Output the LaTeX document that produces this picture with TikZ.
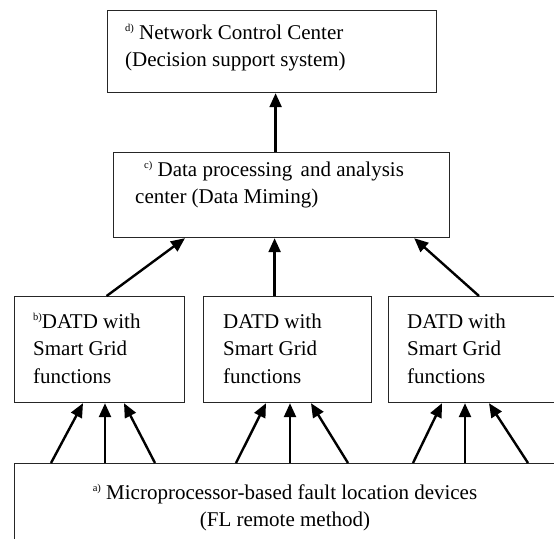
\documentclass[tikz,border=0pt]{standalone}
\usepackage{fontspec}
\setmainfont{Liberation Serif}
\usetikzlibrary{arrows.meta}
\newcommand{\tag}[1]{\raisebox{7.5pt}{\fontsize{10.5}{12}\selectfont #1}}
\begin{document}
\begin{tikzpicture}[x=1pt,y=-1pt,
  box/.style={draw=black!85,line width=1.2pt,rectangle,anchor=north west,inner sep=0pt},
  txt/.style={inner sep=0pt,align=left,font=\fontsize{21}{27.5}\selectfont},
  arr/.style={line width=2.4pt,-{Triangle[length=14pt,width=12pt]}}]
\clip (0,0) rectangle (554,538);
\fill[white] (0,0) rectangle (554,538);

% boxes
\node[box,minimum width=329pt,minimum height=82pt] (d) at (107,10) {};
\node[box,minimum width=336pt,minimum height=85pt] (c) at (113,152) {};
\node[box,minimum width=170pt,minimum height=106pt] (b1) at (14,296) {};
\node[box,minimum width=168pt,minimum height=106pt] (b2) at (203,296) {};
\node[box,minimum width=175pt,minimum height=106pt] (b3) at (388,296) {};
\node[box,minimum width=550pt,minimum height=90pt] (a) at (14,463) {};

% labels
\node[txt,anchor=north west] (dt) at (125,24.5) {\tag{d)} Network Control Center\\(Decision support system)};
\node[txt,anchor=north west] (ct) at (135,161.5) {\hspace{9pt}\tag{c)} Data processing\hspace{0.15em} and analysis\\center (Data Miming)};
\node[txt,anchor=north west] (b1t) at (33,313.5) {\tag{b)}DATD with\\Smart Grid\\functions};
\node[txt,anchor=north west] (b2t) at (223,313.5) {DATD with\\Smart Grid\\functions};
\node[txt,anchor=north west] (b3t) at (407,313.5) {DATD with\\Smart Grid\\functions};
\node[txt,anchor=north,align=center] (at) at (285,484.5) {\tag{a)} Microprocessor-based fault location devices\\(FL remote method)};

% c -> d
\draw[arr] ([xshift=-6pt]c.north) -- ([xshift=3.5pt]d.south);
% b -> c
\draw[arr] ([xshift=7pt]b1.north) -- ([xshift=72pt]c.south west);
\draw[arr] ([xshift=-13pt]b2.north) -- ([xshift=-7pt]c.south);
\draw[arr] ([xshift=91pt]b3.north west) -- ([xshift=-36pt]c.south east);
% a -> b
\draw[arr] ([xshift=37pt]a.north west) -- ([xshift=69pt]b1.south west);
\draw[arr] ([xshift=91pt]a.north west) -- ([xshift=91pt]b1.south west);
\draw[arr] ([xshift=141pt]a.north west) -- ([xshift=110pt]b1.south west);
\draw[arr] ([xshift=222pt]a.north west) -- ([xshift=63pt]b2.south west);
\draw[arr] ([xshift=276pt]a.north west) -- ([xshift=87pt]b2.south west);
\draw[arr] ([xshift=334pt]a.north west) -- ([xshift=108pt]b2.south west);
\draw[arr] ([xshift=399pt]a.north west) -- ([xshift=54pt]b3.south west);
\draw[arr] ([xshift=451pt]a.north west) -- ([xshift=77pt]b3.south west);
\draw[arr] ([xshift=514pt]a.north west) -- ([xshift=101pt]b3.south west);
\end{tikzpicture}
\end{document}
